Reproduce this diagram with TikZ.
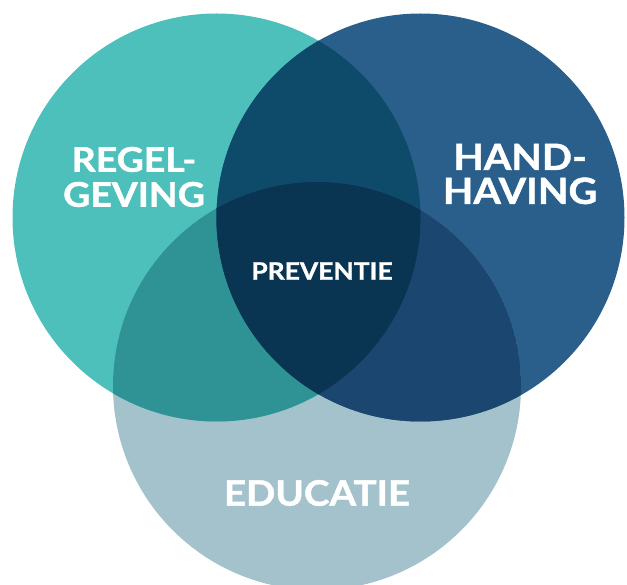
\documentclass[tikz,border=0pt]{standalone}
\usepackage{fontspec}
\setmainfont{Lato}
\newfontfamily\heavy[BoldFeatures={FakeBold=1.2,FakeStretch=1.1}]{Lato}
\definecolor{cL}{HTML}{4EC0BB}
\definecolor{cR}{HTML}{2A5F8C}
\definecolor{cB}{HTML}{A3C2CB}
\definecolor{cLR}{HTML}{0E4A69}
\definecolor{cLB}{HTML}{2F9395}
\definecolor{cRB}{HTML}{1A4670}
\definecolor{cLRB}{HTML}{0A3552}
\begin{document}
\begin{tikzpicture}[x=1pt,y=-1pt,
  lbl/.style={text=white,align=center,inner sep=0pt}]
\useasboundingbox (0,0) rectangle (627,585);
\clip (0,0) rectangle (627,585);
\coordinate (L) at (216.5,217.5);
\coordinate (R) at (420.5,217.5);
\coordinate (B) at (317,386);
\fill[cB] (B) circle (204pt);
\fill[cL] (L) circle (204pt);
\fill[cR] (R) circle (204pt);
\begin{scope}
  \clip (L) circle (204pt);
  \fill[cLR] (R) circle (204pt);
  \fill[cLB] (B) circle (204pt);
  \clip (R) circle (204pt);
  \fill[cLRB] (B) circle (204pt);
\end{scope}
\begin{scope}
  \clip (R) circle (204pt);
  \clip (B) circle (204pt);
  \fill[cRB] (B) circle (204pt);
  \clip (L) circle (204pt);
  \fill[cLRB] (B) circle (204pt);
\end{scope}
\node[lbl,font=\heavy\bfseries\fontsize{34}{35}\selectfont] (regel) at (134,177) {REGEL-\\GEVING};
\node[lbl,font=\heavy\bfseries\fontsize{36}{34}\selectfont] (hand) at (520,174) {HAND-\\HAVING};
\node[lbl,font=\heavy\bfseries\fontsize{24}{26}\selectfont] (prev) at (322,271) {PREVENTIE};
\node[lbl,font=\heavy\bfseries\fontsize{35}{40}\selectfont] (edu) at (317,493) {EDUCATIE};
\end{tikzpicture}
\end{document}
